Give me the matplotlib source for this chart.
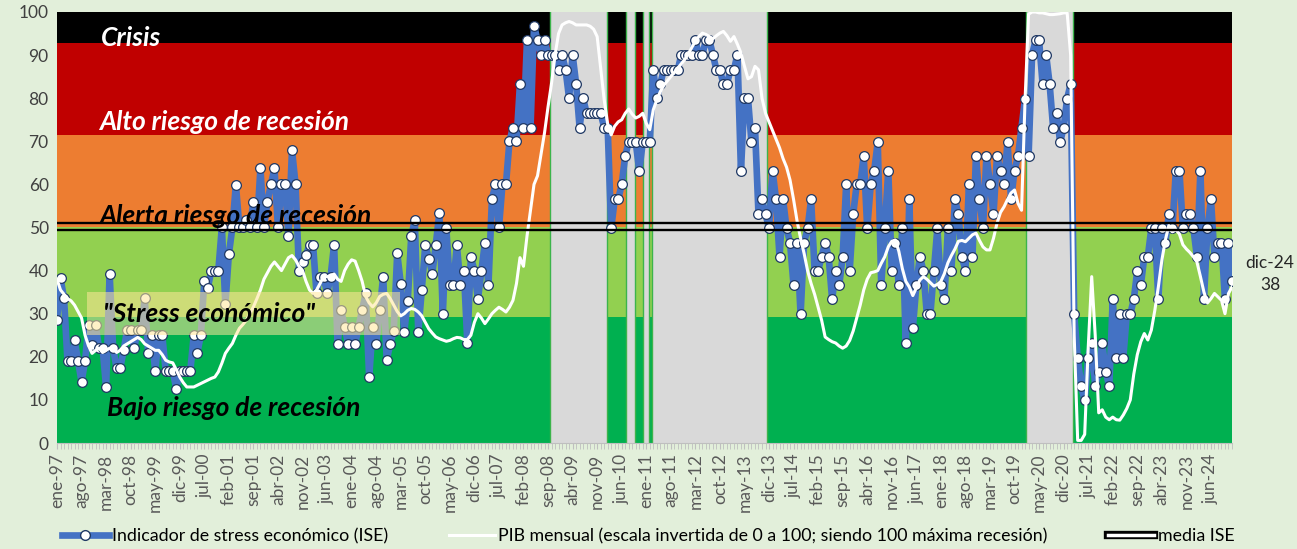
import matplotlib.pyplot as plt
import numpy as np
from matplotlib.lines import Line2D
from matplotlib.patches import Rectangle
from matplotlib.legend_handler import HandlerTuple

plt.rcParams['font.family'] = ['Lato', 'DejaVu Sans']

meses = ['ene', 'feb', 'mar', 'abr', 'may', 'jun', 'jul', 'ago', 'sep', 'oct', 'nov', 'dic']
anios = list(range(1997, 2025))
fechas = [m + '-' + str(a)[2:] for a in anios for m in meses]

# Indicador de stress economico (ISE), mensual ene-97 .. dic-24
ise = [
    28.5, 38.2, 33.6, 19, 19, 23.9, 19, 14.2, 19, 27.3, 22.7, 27.3,
    22, 22, 13, 39.2, 22, 17.3, 17.3, 21.5, 26.2, 26.2, 22, 26.2,
    26.2, 33.6, 20.8, 25, 16.7, 25, 25, 16.7, 16.7, 16.7, 12.6, 16.7,
    16.7, 16.7, 16.7, 25, 20.9, 25, 37.6, 36, 40, 40, 40, 50,
    32.2, 43.8, 50, 59.9, 50, 50, 51.7, 50, 56, 50, 63.7, 50,
    56, 60, 63.7, 50, 60, 60, 48, 68, 60, 40, 42, 43.6,
    46, 46, 34.7, 38.6, 38.6, 34.7, 38.6, 46, 23, 30.8, 27, 23,
    27, 23, 27, 30.8, 34.7, 15.3, 27, 23, 30.8, 38.6, 19.2, 23,
    26, 44, 37, 25.8, 33, 48, 51.7, 25.8, 35.5, 46, 42.8, 39.3,
    46, 53.3, 30, 49.8, 36.6, 36.6, 46, 36.6, 40, 23.2, 43.2, 40,
    33.3, 40, 46.5, 36.6, 56.5, 60, 50, 60, 60, 70, 73.2, 70,
    83.3, 73.2, 93.4, 73.2, 96.8, 93.4, 90.1, 93.4, 90.1, 90.1, 90.1, 86.6,
    90.1, 86.6, 80, 90.1, 83.3, 73.2, 80, 76.5, 76.5, 76.5, 76.5, 76.5,
    73.2, 73.2, 49.8, 56.5, 56.5, 60, 66.6, 69.8, 69.8, 69.8, 63.2, 69.8,
    69.8, 69.8, 86.6, 80, 83.3, 86.6, 86.6, 86.6, 86.6, 86.6, 90.1, 90.1,
    90.1, 90.1, 93.4, 90.1, 90.1, 93.4, 93.4, 90.1, 86.6, 86.6, 83.3, 83.3,
    86.6, 86.6, 90.1, 63.2, 80, 80, 69.8, 73.2, 53.1, 56.5, 53.1, 49.8,
    63.2, 56.5, 43.2, 56.5, 49.8, 46.5, 36.6, 46.5, 29.9, 46.5, 49.8, 56.5,
    40, 40, 43.2, 46.5, 43.2, 33.3, 40, 36.6, 43.2, 60, 40, 53.1,
    60, 60, 66.6, 49.8, 60, 63.2, 69.8, 36.6, 49.8, 63.2, 40, 46.5,
    36.6, 49.8, 23.2, 56.5, 26.6, 36.6, 43.2, 40, 29.9, 29.9, 40, 49.8,
    36.6, 33.3, 49.8, 40, 56.5, 53.1, 43.2, 40, 60, 43.2, 66.6, 56.5,
    49.8, 66.6, 60, 53.1, 66.6, 63.2, 60, 69.8, 56.5, 63.2, 66.6, 73.2,
    79.9, 66.6, 90.1, 93.4, 93.4, 83.3, 90.1, 83.3, 73.2, 76.5, 69.8, 73.2,
    79.9, 83.3, 29.9, 19.8, 13.2, 9.9, 19.8, 23.2, 13.2, 16.5, 23.2, 16.5,
    13.2, 33.3, 19.8, 29.9, 19.8, 29.9, 29.9, 33.3, 40, 36.6, 43.2, 43.2,
    49.8, 49.8, 33.3, 49.8, 46.5, 53.1, 49.8, 63.2, 63.2, 49.8, 53.1, 53.1,
    49.8, 43.2, 63.2, 33.3, 49.8, 56.5, 43.2, 46.5, 46.5, 33.3, 46.5, 37.5,
]

# PIB mensual, escala invertida 0-100
pib = [
    38, 35.5, 34.5, 33.5, 33, 32, 30.5, 29, 25, 22.5, 20.8, 21.5,
    22, 21, 21.5, 22, 22, 21, 21.5, 22.5, 23, 23.5, 24, 24.5,
    24, 23, 22.5, 22, 21.5, 21.5, 20.5, 19.2, 18.8, 18.6, 17, 15.3,
    14, 13, 13, 13, 13.4, 13.8, 14.2, 14.6, 15, 15.3, 16.5, 18.5,
    20.8, 22, 23.1, 25, 26.6, 27.5, 28.5, 30, 31.6, 33.5, 35.5, 38,
    39.5, 41, 42, 41, 40, 41.5, 43, 43.5, 42.5, 41, 40, 37.5,
    35.5, 34.7, 35.5, 37, 38.6, 38.6, 38.8, 39.2, 38, 37.5, 40, 41.5,
    42.5, 42.2, 40, 37.5, 34, 32.5, 31.6, 32.5, 34, 34.5, 34.7, 33.5,
    32, 30.5, 29.5, 30, 30.8, 31.2, 31, 30.4, 29.5, 28, 26.5, 25.5,
    24.6, 24.2, 23.9, 23.6, 23.8, 24.2, 24.5, 24.4, 24, 24, 25, 28,
    30, 29, 27.7, 28.8, 30, 30.8, 31.5, 31, 30.4, 31.5, 33.1, 37,
    43, 41, 48, 54, 60, 62, 67, 72, 78, 83.5, 90, 95,
    97, 97.5, 97.8, 97.5, 97, 97, 97, 97, 96.7, 96, 94.3, 87,
    79.7, 74, 71.5, 73.5, 74.5, 75, 76.5, 77.5, 76.3, 75.4, 75.8, 76.5,
    74.2, 72.7, 77.3, 79.6, 81.5, 83, 84, 85, 86, 87, 88, 89,
    90.3, 91.8, 93.2, 94.3, 95.1, 94.8, 94.3, 93.8, 94.5, 95.1, 95.5, 94.5,
    93.2, 94.3, 92.5, 90.5, 87.4, 84.5, 85, 87.4, 86.6, 80, 76.5, 74.5,
    72.5, 70.5, 68.5, 66, 64, 61, 56.5, 51.5, 47.5, 44, 40, 37,
    34.5, 31.5, 28.5, 24.6, 24, 23.5, 23.2, 22.5, 22, 22.5, 23.8, 26,
    29, 32, 35.5, 38, 39.5, 39.7, 40, 41.7, 43.2, 45.5, 46.8, 47.1,
    44.5, 40.5, 37.5, 36.2, 34.2, 36, 37.8, 38.6, 38, 37.2, 36.4, 36.8,
    37.5, 39.3, 41.8, 43.5, 45, 46.8, 47, 46.7, 47.5, 48.3, 48.7, 47,
    45.5, 44.8, 44.8, 47.5, 51, 53.5, 54.8, 56.5, 58, 58.7, 55.6, 54,
    79.6, 99.5, 100, 100, 99.8, 99.8, 99.6, 99.4, 99.4, 99.5, 99.6, 99.8,
    99.8, 90, 25, 0.6, 0.6, 2, 22, 38.6, 25, 7, 7.7, 6,
    5.4, 6, 5.4, 5.3, 6.5, 8, 10, 16, 20.5, 23.5, 25.4, 23.9,
    26.2, 30.8, 36.2, 42.4, 47.1, 50.5, 49, 49.5, 48.5, 46, 45, 44.2,
    43.2, 42, 38.6, 35, 32.5, 33.5, 34.7, 33.9, 33.1, 30, 34.7, 36.2,
]

media_ise = 50.25

# zonas de riesgo (limites y colores)
zonas_lim = [0, 29.3, 50, 71.5, 92.8, 100]
zonas_col = ['#00B050', '#92D050', '#ED7D31', '#C00000', '#000000']

# periodos de recesion (indice de mes)
recesiones = [(140.5, 156.9), (162.3, 164.8), (167.2, 168.8), (169.6, 202.4), (276.3, 289.8)]

x = np.arange(len(ise))

fig = plt.figure(figsize=(12.97, 5.49), dpi=100)
fig.patch.set_facecolor('#E2EFDA')
ax = fig.add_axes([57 / 1297, 1 - 443 / 549, 1175 / 1297, 431 / 549])

for i in range(len(zonas_col)):
    ax.axhspan(zonas_lim[i], zonas_lim[i + 1], color=zonas_col[i], lw=0, zorder=0)

for a, b in recesiones:
    ax.axvspan(a, b, color='#D9D9D9', lw=0, zorder=1)
    ax.axvline(a, color='#3CB44B', lw=1, zorder=1.5)
    ax.axvline(b, color='#3CB44B', lw=1, zorder=1.5)

ax.plot(x, ise, color='#4472C4', lw=4.8, marker='o', ms=7, mfc='white',
        mec='#1F3864', mew=0.9, zorder=3)
ax.plot(x, pib, color='white', lw=2.2, zorder=4)
ax.axhline(media_ise - 0.85, color='black', lw=1.7, zorder=4.5)
ax.axhline(media_ise + 0.85, color='black', lw=1.7, zorder=4.5)

# recuadro "Stress economico"
ax.add_patch(Rectangle((8.6, 25), 89.2, 10.1, facecolor='#FFE699', alpha=0.55,
                       lw=0, zorder=5))

estilo = dict(fontsize=19, fontweight='bold', fontstyle='italic', va='center', zorder=6)
ax.text(12.6, 94.0, 'Crisis', color='white', **estilo)
ax.text(12.0, 74.5, 'Alto riesgo de recesión', color='white', **estilo)
ax.text(12.0, 52.6, 'Alerta riesgo de recesión', color='black', **estilo)
ax.text(13.0, 30.0, '"Stress económico"', color='black', **estilo)
ax.text(14.3, 8.1, 'Bajo riesgo de recesión', color='black', **estilo)

ax.set_xlim(0, len(ise) - 1)
ax.set_ylim(0, 100)
ax.set_yticks(range(0, 101, 10))
ax.set_xticks(x[::7])
ax.set_xticklabels(fechas[::7], rotation=90)
ax.set_xticks(x, minor=True)
ax.tick_params(axis='x', which='both', colors='#BFBFBF', length=4, labelcolor='#595959',
               labelsize=12.5)
ax.tick_params(axis='y', length=0, labelcolor='#404040', labelsize=12.5, pad=6)
for s in ['top', 'right', 'left']:
    ax.spines[s].set_visible(False)
ax.spines['bottom'].set_color('#BFBFBF')

fig.text(1270 / 1297, 1 - 274 / 549, fechas[-1] + '\n' + f'{ise[-1]:.0f}',
         ha='center', va='center', fontsize=12.5, color='#262626', linespacing=1.5)

h1 = Line2D([], [], color='#4472C4', lw=4.8, marker='o', ms=7, mfc='white', mec='#1F3864')
h2 = Line2D([], [], color='white', lw=2.2)
h3 = (Line2D([], [], color='black', lw=6), Line2D([], [], color='white', lw=2.5))
fig.legend([h1, h2, h3],
           ['Indicador de stress económico (ISE)',
            'PIB mensual (escala invertida de 0 a 100; siendo 100 máxima recesión)',
            'media ISE'],
           loc='lower center', bbox_to_anchor=(0.5, -0.02), ncol=3, frameon=False,
           fontsize=12.8, handlelength=2.6, handletextpad=0.2, columnspacing=3.4,
           handler_map={tuple: HandlerTuple(ndivide=1)})

plt.savefig('out.png', dpi=100, facecolor=fig.get_facecolor())
